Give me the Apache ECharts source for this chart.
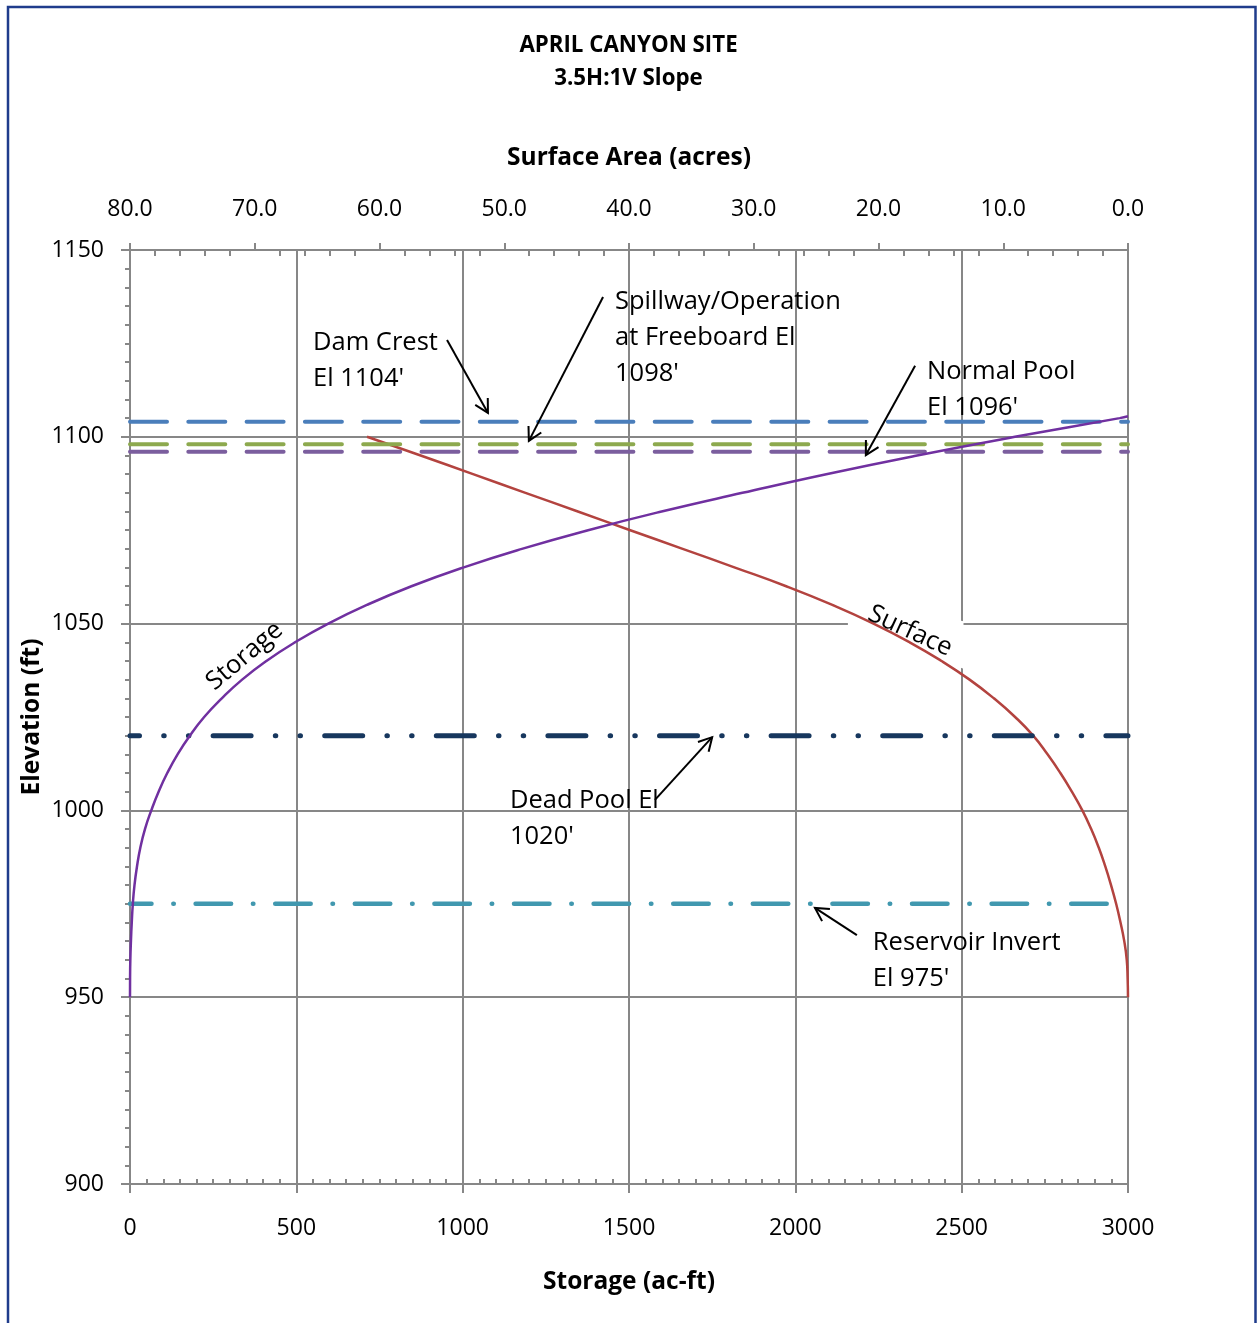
<!DOCTYPE html>
<html>
<head>
<meta charset="utf-8">
<script src="https://cdn.jsdelivr.net/npm/echarts@6/dist/echarts.min.js"></script>
<style>
  html, body { margin: 0; padding: 0; background: #fff; }
  #chart { width: 1257px; height: 1323px; }
</style>
</head>
<body>
<div id="chart"></div>
<script>
// Elevation–storage curve: [storage (ac-ft), elevation (ft)]
const storageCurve = [
  [0, 950], [0.2, 955], [1, 960], [2.8, 965], [5.3, 970], [8.5, 975],
  [13.5, 980], [21, 985], [31, 990], [45, 995], [64, 1000], [86, 1005],
  [112, 1010], [143, 1015], [180, 1020], [223, 1025], [276, 1030],
  [337, 1035], [410, 1040], [496, 1045], [596, 1050], [712, 1055],
  [846, 1060], [1001, 1065], [1178, 1070], [1377, 1075], [1598, 1080],
  [1841, 1085], [2093, 1090], [2366, 1095], [2660, 1100], [2975, 1105],
  [3000, 1105.5]
];

// Elevation–surface area curve: [surface area (acres), elevation (ft)]
const surfaceCurve = [
  [0, 950], [0.03, 955], [0.1, 960], [0.3, 965], [0.6, 970], [0.95, 975],
  [1.36, 980], [1.82, 985], [2.34, 990], [2.95, 995], [3.66, 1000],
  [4.5, 1005], [5.42, 1010], [6.45, 1015], [7.6, 1020], [9.05, 1025],
  [10.75, 1030], [12.7, 1035], [14.95, 1040], [17.5, 1045], [20.4, 1050],
  [23.7, 1055], [27.4, 1060], [31.5, 1065], [35.7, 1070], [39.9, 1075],
  [44.1, 1080], [48.3, 1085], [52.5, 1090], [56.7, 1095], [61.0, 1100]
];

// Design elevations (ft)
const damCrestEl = 1104;
const spillwayEl = 1098;
const normalPoolEl = 1096;
const deadPoolEl = 1020;
const invertEl = 975;
// surface area at the reservoir invert (acres)
const invertArea = 0.95;

// Axis ranges and tick spacing
const storageAxis = { min: 0, max: 3000, step: 500, minorStep: 50 };
const areaAxis = { min: 0, max: 80, step: 10, minorStep: 2 };
const elevAxis = { min: 900, max: 1150, step: 50 };

function minorValues(ax) {
  const out = [];
  for (let v = ax.min + ax.minorStep; v < ax.max; v += ax.minorStep) {
    if (Math.abs(v / ax.step - Math.round(v / ax.step)) > 1e-9) out.push(v);
  }
  return out;
}

const FONT = '"Open Sans", sans-serif';
const GRAY = '#878787';
const axisLineStyle = { color: GRAY, width: 2 };
const axisNameStyle = { fontFamily: FONT, fontSize: 24.5, fontWeight: 'bold', color: '#000' };
const plain = v => String(v);

const chart = echarts.init(document.getElementById('chart'), null, { renderer: 'canvas' });

function levelLine(name, xIdx, x0, x1, el, color, width, dash, offset, z) {
  return {
    name: name, type: 'line', xAxisIndex: xIdx, yAxisIndex: 0,
    data: [[x0, el], [x1, el]],
    symbol: 'none', silent: true, z: z,
    lineStyle: { color: color, width: width, type: dash, dashOffset: offset || 0, cap: 'round' }
  };
}

const option = {
  animation: false,
  backgroundColor: '#fff',
  title: {
    text: 'APRIL CANYON SITE\n3.5H:1V Slope',
    left: 'center', top: 24,
    textStyle: { fontFamily: FONT, fontSize: 22.3, fontWeight: 'bold', color: '#000', lineHeight: 33 }
  },
  grid: { left: 130, right: 129, top: 250, bottom: 139, containLabel: false },
  xAxis: [
    {
      type: 'value', position: 'bottom',
      min: storageAxis.min, max: storageAxis.max, interval: storageAxis.step,
      name: 'Storage (ac-ft)', nameLocation: 'middle', nameGap: 86,
      nameTextStyle: axisNameStyle,
      axisLine: { show: true, onZero: false, lineStyle: axisLineStyle },
      axisTick: { show: true, inside: false, length: 9, lineStyle: axisLineStyle },
      axisLabel: { margin: 33, fontFamily: FONT, fontSize: 23, color: '#000', formatter: plain },
      splitLine: { show: true, lineStyle: axisLineStyle }
    },
    {
      type: 'value', position: 'bottom',
      min: storageAxis.min, max: storageAxis.max,
      axisLine: { show: false, onZero: false },
      axisTick: { show: true, inside: true, length: 5, customValues: minorValues(storageAxis), lineStyle: axisLineStyle },
      axisLabel: { show: false },
      splitLine: { show: false }
    },
    {
      type: 'value', position: 'top', inverse: true,
      min: areaAxis.min, max: areaAxis.max, interval: areaAxis.step,
      name: 'Surface Area (acres)', nameLocation: 'middle', nameGap: 79,
      nameTextStyle: axisNameStyle,
      axisLine: { show: true, onZero: false, lineStyle: axisLineStyle },
      axisTick: { show: true, inside: false, length: 7, lineStyle: axisLineStyle },
      axisLabel: { margin: 29, fontFamily: FONT, fontSize: 23, color: '#000', formatter: v => v.toFixed(1) },
      splitLine: { show: false }
    },
    {
      type: 'value', position: 'top', inverse: true,
      min: areaAxis.min, max: areaAxis.max,
      axisLine: { show: false, onZero: false },
      axisTick: { show: true, inside: true, length: 6, customValues: minorValues(areaAxis), lineStyle: axisLineStyle },
      axisLabel: { show: false },
      splitLine: { show: false }
    }
  ],
  yAxis: [
    {
      type: 'value', position: 'left',
      min: elevAxis.min, max: elevAxis.max, interval: elevAxis.step,
      name: 'Elevation (ft)', nameLocation: 'middle', nameGap: 85, nameRotate: 90,
      nameMoveOverlap: false,
      nameTextStyle: axisNameStyle,
      axisLine: { show: true, onZero: false, lineStyle: axisLineStyle },
      axisTick: { show: true, inside: false, length: 9, lineStyle: axisLineStyle },
      minorTick: { show: true, splitNumber: 10, length: 5, lineStyle: axisLineStyle },
      axisLabel: { margin: 26, fontFamily: FONT, fontSize: 23, color: '#000', formatter: plain },
      splitLine: { show: true, lineStyle: axisLineStyle }
    }
  ],
  series: [
    {
      name: 'Surface', type: 'line', xAxisIndex: 2, yAxisIndex: 0,
      data: surfaceCurve, symbol: 'none', smooth: 0.5, silent: true, z: 2,
      lineStyle: { color: '#B3433F', width: 2.5 }
    },
    levelLine('Dam Crest', 0, storageAxis.min, storageAxis.max, damCrestEl, '#4A7EBB', 4, [37, 21.3], 0, 3),
    levelLine('Spillway', 0, storageAxis.min, storageAxis.max, spillwayEl, '#8DA94E', 4, [37, 21.3], 0, 3),
    levelLine('Normal Pool', 0, storageAxis.min, storageAxis.max, normalPoolEl, '#7B5E9E', 4, [37, 21.3], 0, 3),
    levelLine('Dead Pool', 0, storageAxis.min, storageAxis.max, deadPoolEl, '#17375E', 5, [38, 24.2, 0.5, 24.2, 0.5, 24.2], 28.5, 3),
    levelLine('Reservoir Invert', 2, areaAxis.max, invertArea, invertEl, '#4198AF', 4.5, [35.5, 21.8, 0.5, 21.8], 14, 3),
    {
      name: 'Storage', type: 'line', xAxisIndex: 0, yAxisIndex: 0,
      data: storageCurve, symbol: 'none', smooth: 0.5, silent: true, z: 5,
      lineStyle: { color: '#7030A0', width: 2.5 }
    }
  ]
};

chart.setOption(option);

// Callouts, anchored in storage / elevation units
const callouts = [
  { lines: ['Dam Crest', "El 1104'"], at: [550, 1125.1], tail: [953, 1125.9], head: [1076, 1106.4] },
  { lines: ['Spillway/Operation', 'at Freeboard El', "1098'"], at: [1458, 1136.1], tail: [1422, 1137.4], head: [1199, 1098.9] },
  { lines: ['Normal Pool', "El 1096'"], at: [2396, 1117.3], tail: [2360, 1119.0], head: [2212, 1095.1] },
  { lines: ['Dead Pool El', "1020'"], at: [1142, 1002.5], tail: [1578, 1002.8], head: [1750, 1019.6] },
  { lines: ['Reservoir Invert', "El 975'"], at: [2233, 964.5], tail: [2185, 966.6], head: [2059, 973.9] }
];
const curveLabels = [
  { text: 'Storage', at: [345, 1041.3], rotation: 0.70 },
  { text: 'Surface', at: [2345, 1048.0], rotation: -0.43 }
];
// white backing behind the "Surface" label
const surfaceLabelBox = [[2158, 1056.9], [2505.5, 1050.6], [2505.5, 1037.9], [2158, 1049.4]];

const SERIES_STORAGE = option.series.length - 1;
const px = p => chart.convertToPixel({ seriesIndex: SERIES_STORAGE }, p);
const LABEL_SIZE = 25.5;

const graphics = [];
graphics.push({
  type: 'rect', z: 0, silent: true,
  shape: { x: 8, y: 7, width: 1247.5, height: 1330 },
  style: { fill: null, stroke: '#1F3C8C', lineWidth: 2.5 }
});
graphics.push({
  type: 'polygon', z: 1, silent: true,
  shape: { points: surfaceLabelBox.map(px) },
  style: { fill: '#fff' }
});

callouts.forEach(c => {
  const p = px(c.at);
  graphics.push({
    type: 'text', z: 10, silent: true, x: p[0], y: p[1] - 18,
    style: {
      text: c.lines.join('\n'), fontFamily: FONT, fontSize: LABEL_SIZE, fill: '#000',
      align: 'left', verticalAlign: 'top', lineHeight: 36
    }
  });
  const t = px(c.tail), h = px(c.head);
  const ang = Math.atan2(t[1] - h[1], t[0] - h[0]);
  const L = 15, spread = 0.5;
  const a1 = [h[0] + L * Math.cos(ang + spread), h[1] + L * Math.sin(ang + spread)];
  const a2 = [h[0] + L * Math.cos(ang - spread), h[1] + L * Math.sin(ang - spread)];
  graphics.push({
    type: 'polyline', z: 10, silent: true,
    shape: { points: [t, h] },
    style: { stroke: '#000', lineWidth: 2, fill: null }
  });
  graphics.push({
    type: 'polyline', z: 10, silent: true,
    shape: { points: [a1, h, a2] },
    style: { stroke: '#000', lineWidth: 2, fill: null, lineJoin: 'miter' }
  });
});

curveLabels.forEach(c => {
  const p = px(c.at);
  graphics.push({
    type: 'text', z: 10, silent: true, x: p[0], y: p[1], rotation: c.rotation,
    style: {
      text: c.text, fontFamily: FONT, fontSize: LABEL_SIZE, fill: '#000',
      align: 'center', verticalAlign: 'middle'
    }
  });
});

chart.setOption({ graphic: graphics });
</script>
</body>
</html>
